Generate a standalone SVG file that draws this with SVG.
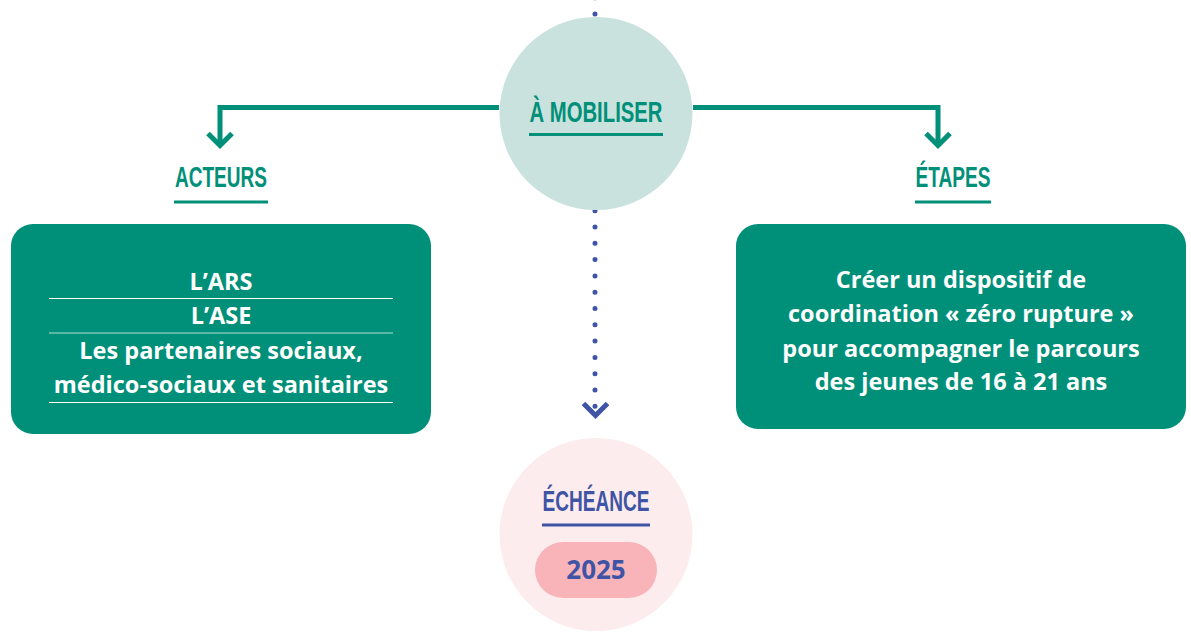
<svg xmlns="http://www.w3.org/2000/svg" width="1191" height="638" viewBox="0 0 1191 638">
<style>
.green{stroke:#009079;stroke-width:5;fill:none}
.dots{stroke:#3f54a5;stroke-width:5;stroke-linecap:round;stroke-dasharray:0 16.3;fill:none}
.head{font-family:"Liberation Sans",Arial,sans-serif;font-weight:700;font-size:29px;text-anchor:middle}
.box{fill:#009079}
.bt{font-family:"Open Sans","Liberation Sans",Arial,sans-serif;font-weight:700;font-size:23.5px;fill:#ffffff;text-anchor:middle}
.sep{stroke:#ffffff;stroke-width:1.2}
</style>
<rect width="1191" height="638" fill="#ffffff"/>
<g id="connectors">
  <line class="dots" x1="595" y1="-2.3" x2="595" y2="14.5"/>
  <line class="dots" x1="595" y1="210.7" x2="595" y2="406.5"/>
  <polyline points="583.5,403.5 595.5,415.5 607.5,403.5" fill="none" stroke="#3f54a5" stroke-width="5"/>
  <polyline class="green" points="499,107.5 220,107.5 220,146"/>
  <polyline class="green" points="208,133.5 220,145.5 232,133.5"/>
  <polyline class="green" points="693,107.5 938,107.5 938,146"/>
  <polyline class="green" points="926,133.5 938,145.5 950,133.5"/>
</g>
<g id="mobiliser">
  <circle cx="596" cy="113.5" r="96.5" fill="#c9e2de"/>
  <text class="head" x="596" y="122" fill="#009079" textLength="133" lengthAdjust="spacingAndGlyphs">À MOBILISER</text>
  <rect x="529" y="133" width="134" height="3" fill="#009079"/>
</g>
<g id="acteurs">
  <text class="head" x="221" y="187" fill="#009079" font-size="27" textLength="92" lengthAdjust="spacingAndGlyphs">ACTEURS</text>
  <rect x="174" y="200.5" width="94" height="3" fill="#009079"/>
</g>
<g id="etapes">
  <text class="head" x="953" y="187" fill="#009079" font-size="27" textLength="75" lengthAdjust="spacingAndGlyphs">ÉTAPES</text>
  <rect x="915" y="200.5" width="76" height="3" fill="#009079"/>
</g>
<g id="acteurs-box">
  <rect class="box" x="11" y="224" width="420" height="210" rx="22"/>
  <text class="bt" x="221" y="290">L’ARS</text>
  <line class="sep" x1="49" y1="298.5" x2="393" y2="298.5"/>
  <text class="bt" x="221" y="324">L’ASE</text>
  <line class="sep" x1="49" y1="333" x2="393" y2="333" stroke-opacity="0.7"/>
  <text class="bt" x="221" y="359">Les partenaires sociaux,</text>
  <text class="bt" x="221" y="393">médico-sociaux et sanitaires</text>
  <line class="sep" x1="49" y1="402.5" x2="393" y2="402.5"/>
</g>
<g id="etapes-box">
  <rect class="box" x="736" y="224" width="450" height="205" rx="22"/>
  <text class="bt" x="961" y="288">Créer un dispositif de</text>
  <text class="bt" x="961" y="322">coordination « zéro rupture »</text>
  <text class="bt" x="961" y="357">pour accompagner le parcours</text>
  <text class="bt" x="961" y="390">des jeunes de 16 à 21 ans</text>
</g>
<g id="echeance">
  <circle cx="596" cy="534.5" r="96.5" fill="#fcecee"/>
  <text class="head" x="596" y="511" fill="#3f54a5" font-size="28" textLength="107" lengthAdjust="spacingAndGlyphs">ÉCHÉANCE</text>
  <rect x="542" y="523.5" width="108" height="3" fill="#3f54a5"/>
  <rect x="535" y="542" width="122" height="56" rx="28" fill="#f8b4b8"/>
  <text x="596" y="579" font-family="'Open Sans','Liberation Sans',Arial,sans-serif" font-weight="700" font-size="26" fill="#3f54a5" text-anchor="middle">2025</text>
</g>
</svg>
